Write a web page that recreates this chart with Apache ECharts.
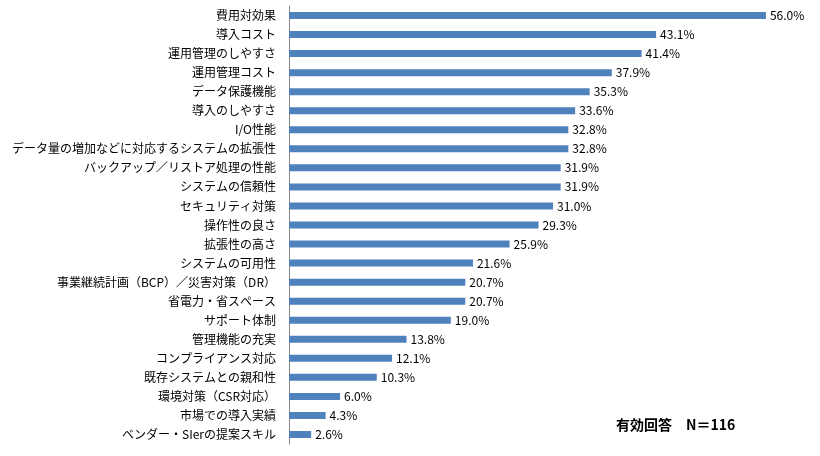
<!DOCTYPE html>
<html>
<head>
<meta charset="UTF-8">
<title>重視する項目</title>
<script src="https://cdn.jsdelivr.net/npm/echarts@6/dist/echarts.min.js"></script>
<style>
body { margin: 0; padding: 0; background: #fff; }
#main { width: 820px; height: 456px; }
</style>
</head>
<body>
<div id="main"></div>
<script>
// 項目(上から順)
var categories = [
	'費用対効果', '導入コスト', '運用管理のしやすさ', '運用管理コスト', 'データ保護機能',
	'導入のしやすさ', 'I/O性能', 'データ量の増加などに対応するシステムの拡張性',
	'バックアップ／リストア処理の性能', 'システムの信頼性', 'セキュリティ対策', '操作性の良さ',
	'拡張性の高さ', 'システムの可用性', '事業継続計画（BCP）／災害対策（DR）', '省電力・省スペース',
	'サポート体制', '管理機能の充実', 'コンプライアンス対応', '既存システムとの親和性',
	'環境対策（CSR対応）', '市場での導入実績', 'ベンダー・SIerの提案スキル'
];
var values = [56.0, 43.1, 41.4, 37.9, 35.3, 33.6, 32.8, 32.8, 31.9, 31.9, 31.0, 29.3,
	25.9, 21.6, 20.7, 20.7, 19.0, 13.8, 12.1, 10.3, 6.0, 4.3, 2.6];
var noteLabel = '有効回答';
var noteN = 'N＝116';

var font = '"Noto Sans CJK JP", "Noto Sans", sans-serif';
var chart = echarts.init(document.getElementById('main'));

var option = {
	animation: false,
	grid: { left: 289, top: 6, width: 511, height: 438 },
	xAxis: {
		type: 'value', min: 0, max: 60,
		show: false
	},
	yAxis: {
		type: 'category',
		inverse: true,
		data: categories,
		axisLine: { show: true, lineStyle: { color: '#868686', width: 1 } },
		axisTick: { show: false },
		axisLabel: { color: '#000', fontSize: 12, fontFamily: font, margin: 13 }
	},
	series: [{
		type: 'bar',
		data: values,
		barWidth: 7,
		itemStyle: { color: '#4f81bd' },
		label: {
			show: true, position: 'right', distance: 4,
			color: '#000', fontSize: 12, fontFamily: font,
			formatter: function (p) { return p.value.toFixed(1) + '%'; }
		}
	}],
	graphic: [{
		type: 'text', left: 616, top: 418,
		style: { text: noteLabel, fill: '#000', font: 'bold 14px ' + font }
	}, {
		type: 'text', left: 686, top: 418,
		style: { text: noteN, fill: '#000', font: 'bold 14px ' + font }
	}]
};
chart.setOption(option);
</script>
</body>
</html>
